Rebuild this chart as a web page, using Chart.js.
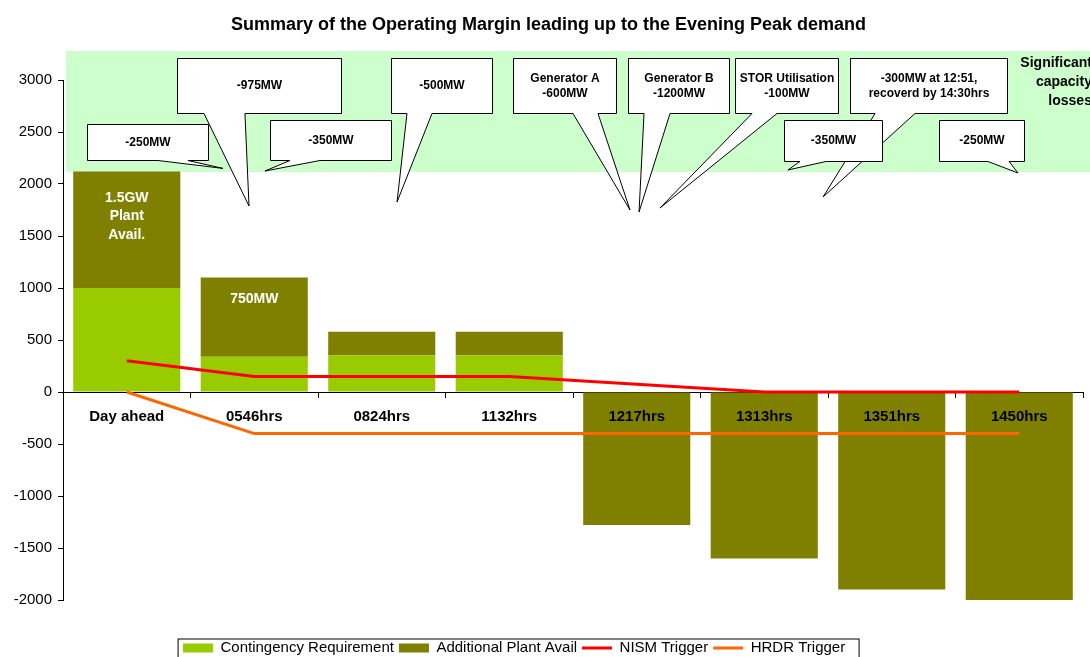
<!DOCTYPE html>
<html><head><meta charset="utf-8">
<script src="https://cdn.jsdelivr.net/npm/chart.js@4.4.0/dist/chart.umd.min.js"></script>
<style>html,body{margin:0;padding:0;background:#fff;}canvas{display:block;}</style>
</head><body>
<canvas id="c" width="1090" height="657"></canvas>
<script>
// ---- data ----
const categories = ['Day ahead','0546hrs','0824hrs','1132hrs','1217hrs','1313hrs','1351hrs','1450hrs'];
const contingencyRequirement = [1000, 340, 350, 350, null, null, null, null];
const additionalPlantAvail = [1120, 760, 230, 230, -1280, -1600, -1900, -2000];
const nismTrigger = [300, 150, 150, 150, 75, 0, 0, 0];
const hrdrTrigger = [0, -400, -400, -400, -400, -400, -400, -400];
const seriesNames = ['Contingency Requirement','Additional Plant Avail','NISM Trigger','HRDR Trigger'];
const yMin = -2000, yMax = 3000, yStep = 500;
const bandRange = [2120, 3280];
const barLabels = [
  {index: 0, lines: ['1.5GW','Plant','Avail.'], value: 1865},
  {index: 1, lines: ['750MW'], value: 894}
];
// callouts in axis units: x = category index, v = value
const callouts = [
  {lines:['-250MW'], x:[-0.31,0.64], v:[2230,2580], tail:[0.245,0.48,0.755,2150]},
  {lines:['-975MW'], x:[0.394,1.68], v:[2685,3214], tail:[0.606,0.927,0.959,1788]},
  {lines:['-350MW'], x:[1.124,2.073], v:[2230,2615], tail:[1.28,1.516,1.084,2125]},
  {lines:['-500MW'], x:[2.073,2.865], v:[2685,3214], tail:[2.198,2.394,2.12,1827]},
  {lines:['Generator A','-600MW'], x:[3.029,3.837], v:[2685,3214], tail:[3.5,3.696,3.947,1750]},
  {lines:['Generator B','-1200MW'], x:[3.931,4.724], v:[2685,3214], tail:[4.057,4.261,4.018,1731]},
  {lines:['STOR Utilisation','-100MW'], x:[4.771,5.578], v:[2685,3214], tail:[4.904,5.1,4.182,1769]},
  {lines:['-300MW at 12:51,','recoverd by 14:30hrs'], x:[5.673,6.904], v:[2685,3214], tail:[5.869,6.182,5.461,1875]},
  {lines:['-350MW'], x:[5.155,5.924], v:[2224,2615], tail:[5.28,5.484,5.186,2135]},
  {lines:['-250MW'], x:[6.371,7.037], v:[2224,2615], tail:[6.755,6.92,6.99,2106]}
];
const sideNote = {lines:['Significant','capacity','losses'], x: 7.57, v: 3166};

// ---- chart ----
const FONT = '"Liberation Sans", Arial, Helvetica, sans-serif';
Chart.defaults.font.family = FONT;
Chart.defaults.color = '#000';

const LEGEND_LEFT = 183, LEGEND_MID_Y = 648;

const decor = {
  id: 'decor',
  beforeDatasetsDraw(chart) {
    const {ctx, scales:{x, y}} = chart;
    const yt = Math.round(y.getPixelForValue(bandRange[1]));
    const yb = Math.round(y.getPixelForValue(bandRange[0]));
    ctx.save();
    ctx.fillStyle = '#CCFFCC';
    ctx.fillRect(chart.chartArea.left + 3, yt, chart.width - chart.chartArea.left - 3, yb - yt);
    ctx.restore();
  },
  afterDatasetsDraw(chart) {
    const {ctx, scales:{x, y}} = chart;
    ctx.save();
    ctx.fillStyle = '#fff';
    ctx.font = 'bold 14px ' + FONT;
    ctx.textAlign = 'center';
    ctx.textBaseline = 'middle';
    barLabels.forEach(b => {
      const px = x.getPixelForValue(b.index);
      const py = y.getPixelForValue(b.value);
      b.lines.forEach((t, i) => ctx.fillText(t, px, py + i * 18.5));
    });
    ctx.restore();
  },
  afterDraw(chart) {
    const {ctx, scales:{x, y}} = chart;
    ctx.save();
    callouts.forEach(c => {
      const x0 = Math.round(x.getPixelForValue(c.x[0])) + 0.5;
      const x1 = Math.round(x.getPixelForValue(c.x[1])) + 0.5;
      const yt = Math.round(y.getPixelForValue(c.v[1])) + 0.5;
      const yb = Math.round(y.getPixelForValue(c.v[0])) + 0.5;
      const bl = x.getPixelForValue(c.tail[0]);
      const br = x.getPixelForValue(c.tail[1]);
      const tx = x.getPixelForValue(c.tail[2]);
      const ty = y.getPixelForValue(c.tail[3]);
      ctx.beginPath();
      ctx.moveTo(x0, yt); ctx.lineTo(x1, yt); ctx.lineTo(x1, yb);
      ctx.lineTo(br, yb); ctx.lineTo(tx, ty); ctx.lineTo(bl, yb);
      ctx.lineTo(x0, yb); ctx.closePath();
      ctx.fillStyle = '#fff'; ctx.fill();
      ctx.strokeStyle = '#000'; ctx.lineWidth = 1; ctx.stroke();
      ctx.fillStyle = '#000';
      ctx.font = 'bold 12px ' + FONT;
      ctx.textAlign = 'center'; ctx.textBaseline = 'middle';
      const cx = (x0 + x1) / 2, cy = (yt + yb) / 2;
      const lh = 15.5, n = c.lines.length;
      c.lines.forEach((t, i) => ctx.fillText(t, cx, cy + (i - (n - 1) / 2) * lh));
    });
    ctx.font = 'bold 14px ' + FONT;
    ctx.textAlign = 'right'; ctx.textBaseline = 'middle'; ctx.fillStyle = '#000';
    const sx = x.getPixelForValue(sideNote.x), sy = y.getPixelForValue(sideNote.v);
    sideNote.lines.forEach((t, i) => ctx.fillText(t, sx, sy + i * 19));
    ctx.restore();
  },
  beforeDraw(chart) {
    const lg = chart.legend;
    if (!lg || lg._patched) return;
    const orig = lg.draw;
    lg.draw = function() {
      const ctx = chart.ctx;
      const hb = this.legendHitBoxes;
      let dx = 0, dy = 0;
      if (hb && hb.length) {
        dx = LEGEND_LEFT - hb[0].left;
        dy = LEGEND_MID_Y - (hb[0].top + hb[0].height / 2);
      }
      ctx.save();
      ctx.translate(dx, dy);
      orig.apply(this, arguments);
      if (hb && hb.length) {
        const last = hb[hb.length - 1];
        const l = hb[0].left - 5, r = last.left + last.width + 14;
        const cy = hb[0].top + hb[0].height / 2;
        ctx.strokeStyle = '#000'; ctx.lineWidth = 1;
        ctx.strokeRect(Math.round(l) + 0.5, Math.round(cy - 10) + 0.5, Math.round(r - l), 20);
      }
      ctx.restore();
    };
    lg._patched = true;
  }
};

new Chart(document.getElementById('c'), {
  type: 'bar',
  data: {
    labels: categories,
    datasets: [
      {label: seriesNames[0], data: contingencyRequirement, backgroundColor: '#99CC00', stack: 'bars', order: 1,
       categoryPercentage: 0.84, barPercentage: 1.0, pointStyle: 'rect'},
      {label: seriesNames[1], data: additionalPlantAvail, backgroundColor: '#808000', stack: 'bars', order: 1,
       categoryPercentage: 0.84, barPercentage: 1.0, pointStyle: 'rect'},
      {type: 'line', label: seriesNames[2], data: nismTrigger, borderColor: '#FF0000', backgroundColor: '#FF0000',
       borderWidth: 3, pointRadius: 0, pointHoverRadius: 0, pointBorderWidth: 3, pointStyle: 'line',
       tension: 0, stack: 'nism', order: 0},
      {type: 'line', label: seriesNames[3], data: hrdrTrigger, borderColor: '#FF6600', backgroundColor: '#FF6600',
       borderWidth: 3, pointRadius: 0, pointHoverRadius: 0, pointBorderWidth: 3, pointStyle: 'line',
       tension: 0, stack: 'hrdr', order: 0}
    ]
  },
  options: {
    responsive: false,
    animation: false,
    layout: {padding: {left: 14, right: 7, top: 0, bottom: 27}},
    plugins: {
      title: {display: true, text: 'Summary of the Operating Margin leading up to the Evening Peak demand',
              font: {size: 18, weight: 'bold'}, color: '#000', padding: {top: 14.5, bottom: 43.9}},
      legend: {position: 'bottom',
               labels: {usePointStyle: true, pointStyleWidth: 30, boxHeight: 9, padding: 5,
                        font: {size: 15}, color: '#000',
                        sort: (a, b) => a.datasetIndex - b.datasetIndex}},
      tooltip: {enabled: false}
    },
    scales: {
      x: {
        type: 'category', stacked: true, offset: true, position: {y: 0},
        grid: {display: true, drawOnChartArea: false, offset: true, tickLength: 5, color: '#000'},
        border: {display: true, color: '#000', width: 1},
        ticks: {font: {size: 15, weight: 'bold'}, color: '#000', padding: 11, maxRotation: 0, autoSkip: false, z: 1},
        afterFit: s => { s.height = 33; }
      },
      y: {
        stacked: true, min: yMin, max: yMax,
        grid: {display: true, drawOnChartArea: false, tickLength: 5, color: '#000'},
        border: {display: true, color: '#000', width: 1},
        ticks: {stepSize: yStep, font: {size: 15}, color: '#000', padding: 6, callback: v => String(v)},
        afterFit: s => { s.width = 49; }
      }
    }
  },
  plugins: [decor]
});
</script>
</body></html>
